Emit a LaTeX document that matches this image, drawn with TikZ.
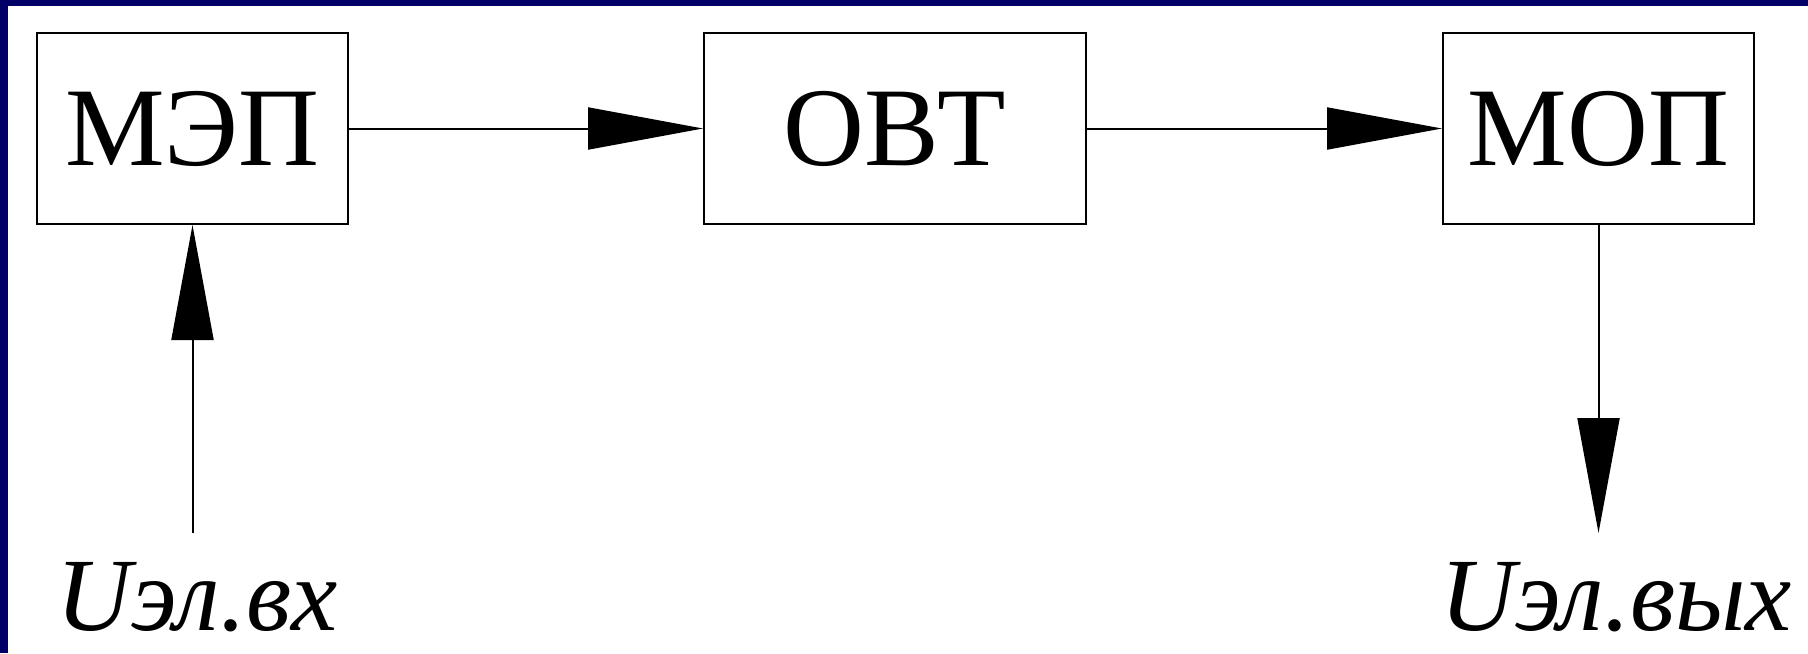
\documentclass[tikz,border=0pt]{standalone}
\usepackage{fontspec}
\setmainfont{Liberation Serif}
\usetikzlibrary{arrows.meta}
\definecolor{navy}{RGB}{0,0,102}
\tikzset{
  block/.style={draw, line width=1pt, minimum width=155.5pt, minimum height=95.5pt,
    inner sep=0pt, font=\fontsize{56}{60}\selectfont},
  signal/.style={font=\fontsize{52}{56}\selectfont\itshape, anchor=base, inner sep=0pt},
  flow/.style={line width=1pt, -{Triangle[length=57.5pt, width=21pt]}}
}

\begin{document}
\begin{tikzpicture}[x=0.5pt,y=-0.5pt]
      % frame
      \fill[white] (0,0) rectangle (1808,653);
      \useasboundingbox (0,0) rectangle (1808,653);
      \fill[navy] (0,0) rectangle (1808,6);
      \fill[navy] (0,0) rectangle (8,653);

      \node[block] (mep) at (192.5,128.5) {МЭП};
      \node[block, minimum width=191pt] (ovt) at (895,128.5) {ОВТ};
      \node[block] (mop) at (1598.5,128.5) {МОП};

      \node[signal] (uin) at (197,630) {Uэл.вх};
      \node[signal] (uout) at (1616,630) {Uэл.вых};

      \coordinate (in) at (mep.south |- 0,533);
      \coordinate (out) at (mop.south |- 0,533);

      \draw[flow] (mep) -- (ovt);
      \draw[flow] (ovt) -- (mop);
      \draw[flow] (in) -- (mep.south);
      \draw[flow] (mop.south) -- (out);

    \end{tikzpicture}
\end{document}
